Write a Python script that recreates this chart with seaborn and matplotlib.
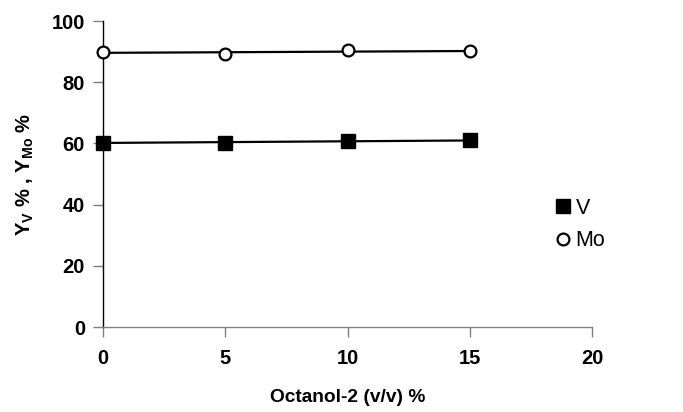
import numpy as np
import pandas as pd
import matplotlib
matplotlib.use("Agg")
import matplotlib.pyplot as plt
import seaborn as sns

octanol = [0, 5, 10, 15]
y_v = [60.3, 60.2, 60.8, 61.0]
y_mo = [89.9, 89.1, 90.5, 90.1]

df = pd.DataFrame({"octanol": octanol, "V": y_v, "Mo": y_mo})

sns.set_style("white")
plt.rcParams["font.family"] = ["Liberation Sans", "DejaVu Sans"]
plt.rcParams["mathtext.fontset"] = "custom"
plt.rcParams["mathtext.rm"] = "Liberation Sans:bold"
plt.rcParams["mathtext.it"] = "Liberation Sans:bold"
plt.rcParams["mathtext.bf"] = "Liberation Sans:bold"
plt.rcParams["text.color"] = "black"
plt.rcParams["axes.labelcolor"] = "black"
plt.rcParams["xtick.labelcolor"] = "black"
plt.rcParams["ytick.labelcolor"] = "black"

fig = plt.figure(figsize=(6.83, 4.12), dpi=100)
ax = fig.add_axes([0.151, 0.206, 0.716, 0.743])

# trendlines like the original spreadsheet chart
sns.regplot(data=df, x="octanol", y="V", ci=None, scatter=False, ax=ax,
            line_kws=dict(color="black", lw=1.6))
sns.regplot(data=df, x="octanol", y="Mo", ci=None, scatter=False, ax=ax,
            line_kws=dict(color="black", lw=1.6))

ax.plot(df["octanol"], df["V"], ls="none", marker="s", ms=10.5,
        mfc="black", mec="black", label="V", clip_on=False, zorder=5)
ax.plot(df["octanol"], df["Mo"], ls="none", marker="o", ms=8.5,
        mfc="white", mec="black", mew=1.6, label="Mo", clip_on=False, zorder=5)

ax.set_xlim(0, 20)
ax.set_ylim(0, 100)
ax.set_xticks([0, 5, 10, 15, 20])
ax.set_yticks([0, 20, 40, 60, 80, 100])

for s in ["top", "right"]:
    ax.spines[s].set_visible(False)
ax.spines["left"].set_color("black")
ax.spines["bottom"].set_color("#808080")
ax.spines["left"].set_linewidth(1.0)
ax.spines["bottom"].set_linewidth(1.0)

ax.tick_params(axis="both", direction="out", length=7, width=1.0,
               color="#808080", labelsize=14.5, pad=6, bottom=True, left=True,
               labelcolor="black")
for lab in ax.get_xticklabels() + ax.get_yticklabels():
    lab.set_fontweight("bold")
ax.tick_params(axis="x", pad=9)

ax.set_xlabel("Octanol-2 (v/v) %", fontsize=13.8, fontweight="bold", labelpad=15)
ax.set_ylabel(r"Y$_\mathrm{V}$ % , Y$_\mathrm{Mo}$ %", fontsize=14.5,
              fontweight="bold", labelpad=11)

ax.legend(loc="center left", bbox_to_anchor=(0.9, 0.335), frameon=False,
          fontsize=15.5, handletextpad=0.1, handlelength=1.0,
          labelspacing=0.55, borderaxespad=0)

fig.savefig("out.png", dpi=100)
